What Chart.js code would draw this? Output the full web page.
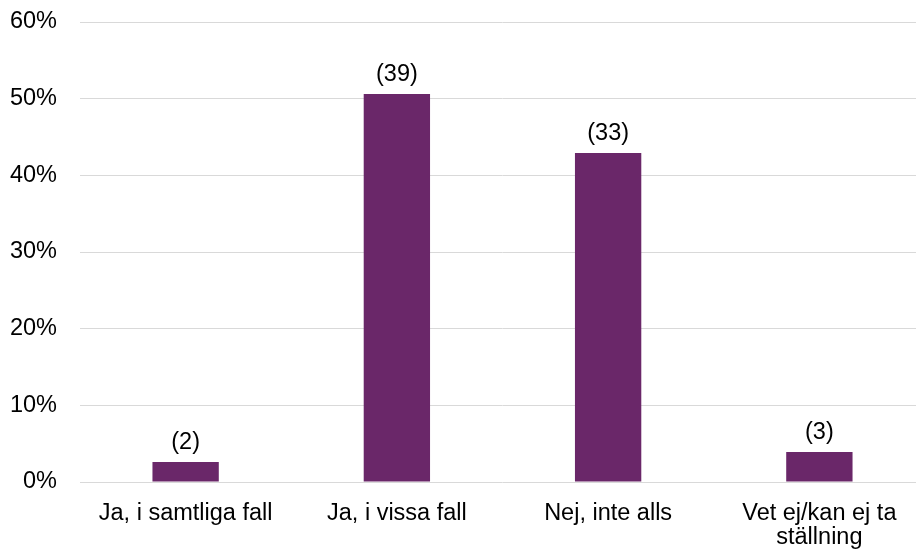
<!DOCTYPE html>
<html>
<head>
<meta charset="utf-8">
<script src="https://cdn.jsdelivr.net/npm/chart.js@4/dist/chart.umd.min.js"></script>
<style>
  html, body { margin: 0; padding: 0; overflow: hidden; background: #fff; }
  canvas { display: block; }
</style>
</head>
<body>
<canvas id="c" width="925" height="551"></canvas>
<script>
const categories = ['Ja, i samtliga fall', 'Ja, i vissa fall', 'Nej, inte alls', ['Vet ej/kan ej ta', 'ställning']];
const percentValues = [2.6, 50.6, 42.9, 3.9];
const counts = [2, 39, 33, 3];
const yTicks = [0, 10, 20, 30, 40, 50, 60];

const FONT = 'Liberation Sans, Arial, sans-serif';

const countLabels = {
  id: 'countLabels',
  afterDatasetsDraw(chart) {
    const ctx = chart.ctx;
    const meta = chart.getDatasetMeta(0);
    ctx.save();
    ctx.font = '23.5px ' + FONT;
    ctx.fillStyle = '#000';
    ctx.textAlign = 'center';
    ctx.textBaseline = 'middle';
    meta.data.forEach((bar, i) => {
      ctx.fillText('(' + counts[i] + ')', bar.x, bar.y - 20);
    });
    ctx.restore();
  }
};

new Chart(document.getElementById('c'), {
  type: 'bar',
  data: {
    labels: categories,
    datasets: [{
      data: percentValues,
      backgroundColor: '#6A2769',
      borderWidth: 0,
      categoryPercentage: 1,
      barPercentage: 0.314
    }]
  },
  options: {
    responsive: false,
    animation: false,
    layout: { padding: { top: 22, right: 0, left: 0, bottom: 0 } },
    plugins: { legend: { display: false }, tooltip: { enabled: false } },
    scales: {
      x: {
        grid: { display: false, drawTicks: false },
        border: { display: false },
        ticks: {
          color: '#000',
          font: { family: FONT, size: 23.5, lineHeight: 1.0 },
          padding: 20,
          maxRotation: 0,
          autoSkip: false
        },
        afterFit(scale) { scale.height = 69; scale.paddingLeft = 0; scale.paddingRight = 0; }
      },
      y: {
        min: 0,
        max: 60,
        afterBuildTicks(scale) { scale.ticks = yTicks.map(v => ({ value: v })); },
        grid: { color: '#D9D9D9', lineWidth: 1, drawTicks: false },
        border: { display: false },
        ticks: {
          color: '#000',
          font: { family: FONT, size: 23.5 },
          padding: 23,
          callback: v => v + '%'
        },
        afterFit(scale) { scale.width = 80; scale.paddingTop = 0; scale.paddingBottom = 0; }
      }
    }
  },
  plugins: [countLabels]
});
</script>
</body>
</html>
